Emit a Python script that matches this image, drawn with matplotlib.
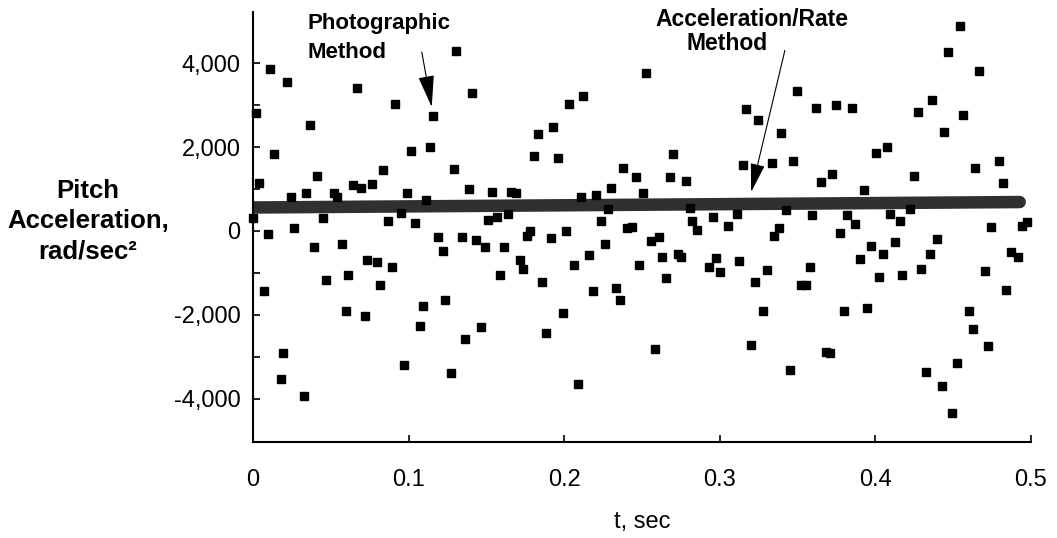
import numpy as np
import matplotlib
matplotlib.use('Agg')
import matplotlib.pyplot as plt
from matplotlib.ticker import FixedLocator

plt.rcParams['font.family'] = ['Liberation Sans', 'DejaVu Sans']

# photographic method samples (t in sec, pitch acceleration in rad/sec^2)
photo_t = [0.0109, 0.0216, 0.002, 0.0366, 0.0137, 0.004, 0.0413, 0.0244, 0.034, 0.052,
           0.054, 0.0, 0.0099, 0.0263, 0.0448, 0.0392, 0.057, 0.061, 0.0469, 0.0071,
           0.0598, 0.0195, 0.0178, 0.033,
           0.0666, 0.0913, 0.1155, 0.1138, 0.1015, 0.0834, 0.0645, 0.0692, 0.0763, 0.0988,
           0.1112, 0.087, 0.0949, 0.1041, 0.1187, 0.1219, 0.0735, 0.0795, 0.0891, 0.0816,
           0.072, 0.109, 0.1234, 0.1073, 0.097,
           0.1305, 0.1409, 0.1834, 0.1808, 0.1292, 0.1388, 0.1534, 0.1658, 0.169, 0.1512,
           0.1566, 0.1641, 0.1341, 0.1433, 0.1491, 0.1613, 0.1763, 0.1784, 0.1716, 0.1737,
           0.1587, 0.1859, 0.1465, 0.1362, 0.1883, 0.127,
           0.2526, 0.2123, 0.2033, 0.193, 0.1958, 0.238, 0.246, 0.2305, 0.2108, 0.2204,
           0.2505, 0.2284, 0.2235, 0.201, 0.1915, 0.2406, 0.2434, 0.2262, 0.2159, 0.2065,
           0.2481, 0.2187, 0.2337, 0.2359, 0.199, 0.2091,
           0.3168, 0.2701, 0.3151, 0.2684, 0.2781, 0.2809, 0.3109, 0.282, 0.2856, 0.2958,
           0.3055, 0.2611, 0.2556, 0.2631, 0.2734, 0.2755, 0.298, 0.2931, 0.3006, 0.3126,
           0.2655, 0.2584,
           0.3498, 0.3247, 0.3623, 0.3747, 0.3398, 0.3335, 0.3472, 0.365, 0.3725, 0.3429,
           0.3597, 0.3382, 0.335, 0.3772, 0.3308, 0.3231, 0.3583, 0.3522, 0.3558, 0.328,
           0.3798, 0.3205, 0.3683, 0.3708, 0.3451,
           0.3852, 0.4368, 0.4276, 0.4441, 0.4077, 0.4004, 0.4248, 0.3927, 0.382, 0.3869,
           0.4098, 0.4158, 0.4222, 0.3976, 0.4051, 0.4126, 0.3901, 0.44, 0.4351, 0.4297,
           0.4025, 0.4175, 0.395, 0.4329, 0.443,
           0.4544, 0.4469, 0.4668, 0.4565, 0.4794, 0.4645, 0.4822, 0.4747, 0.4946, 0.4976,
           0.4872, 0.4919, 0.4704, 0.4844, 0.4602, 0.4629, 0.4726, 0.4526, 0.4497]
photo_acc = [3870, 3550, 2810, 2540, 1840, 1140, 1310, 810, 900, 900,
             810, 300, -70, 80, 310, -390, -300, -1050, -1180, -1440,
             -1900, -2910, -3530, -3930,
             3420, 3040, 2740, 2000, 1900, 1460, 1090, 1020, 1130, 910,
             750, 230, 420, 190, -150, -480, -700, -740, -860, -1280,
             -2020, -1780, -1640, -2270, -3190,
             4290, 3290, 2320, 1800, 1470, 1010, 940, 940, 910, 250,
             330, 410, -150, -210, -390, -390, -130, -10, -700, -900,
             -1040, -1220, -2300, -2590, -2430, -3390,
             3780, 3220, 3020, 2490, 1750, 1500, 1280, 1030, 820, 870,
             900, 530, 230, 10, -160, 70, 90, -310, -570, -820,
             -810, -1440, -1360, -1640, -1960, -3660,
             2920, 1830, 1580, 1280, 1190, 550, 410, 230, 30, 330,
             110, -150, -250, -630, -560, -620, -640, -860, -970, -720,
             -1130, -2810,
             3340, 2640, 2930, 3010, 2340, 1630, 1670, 1160, 1350, 510,
             370, 70, -110, -50, -930, -1220, -860, -1300, -1300, -1920,
             -1910, -2730, -2880, -2910, -3310,
             2940, 3130, 2840, 2370, 2000, 1860, 1310, 980, 370, 160,
             410, 230, 530, -350, -560, -270, -660, -190, -560, -900,
             -1100, -1060, -1830, -3370, -3690,
             4890, 4280, 3810, 2770, 1680, 1500, 1150, 90, 110, 210,
             -510, -630, -960, -1420, -1900, -2330, -2750, -3150, -4340]

# acceleration/rate method (nearly constant)
rate_t = [0.0, 0.493]
rate_acc = [560, 690]

xticks = [0, 0.1, 0.2, 0.3, 0.4, 0.5]
xtick_labels = ['0', '0.1', '0.2', '0.3', '0.4', '0.5']
yticks = [-4000, -2000, 0, 2000, 4000]
ytick_labels = ['-4,000', '-2,000', '0', '2,000', '4,000']
yminor = [-3000, -1000, 1000, 3000]

fig = plt.figure(figsize=(10.57, 5.38), dpi=100)
ax = fig.add_axes([0.2394, 0.179, 0.7356, 0.799])

ax.plot(rate_t, rate_acc, color='#303030', lw=9, solid_capstyle='round', zorder=2)
ax.plot(photo_t, photo_acc, 's', ms=5.5, color='black', zorder=3, clip_on=False)

ax.set_xlim(0, 0.5)
ax.set_ylim(-5030, 5230)
ax.set_xticks(xticks)
ax.set_xticklabels(xtick_labels)
ax.set_yticks(yticks)
ax.set_yticklabels(ytick_labels)
ax.yaxis.set_minor_locator(FixedLocator(yminor))

for s in ['top', 'right']:
    ax.spines[s].set_visible(False)
for s in ['left', 'bottom']:
    ax.spines[s].set_linewidth(1.5)

ax.tick_params(axis='both', which='both', direction='in', labelsize=17, width=1.2)
ax.tick_params(axis='both', which='major', length=5)
ax.tick_params(axis='y', which='minor', length=5)
ax.tick_params(axis='x', pad=20)
ax.tick_params(axis='y', pad=9)

ax.set_xlabel('t, sec', fontsize=17, labelpad=14)
fig.text(88 / 1057, 1 - 221 / 538, 'Pitch\nAcceleration,\nrad/sec²',
         ha='center', va='center', fontsize=18.5, fontweight='bold', linespacing=1.32)

# annotations
ax.text(0.0347, 5200, 'Photographic\nMethod', ha='left', va='top',
        fontsize=16, fontweight='bold', linespacing=1.5)
ax.annotate('', xy=(0.1149, 2960), xytext=(0.1085, 4270),
            arrowprops=dict(arrowstyle='-|>,head_length=2.0,head_width=0.5',
                            color='black', lw=0.8, shrinkA=0, shrinkB=0))

ax.text(0.2585, 5320, 'Acceleration/Rate', ha='left', va='top',
        fontsize=16.5, fontweight='bold')
ax.text(0.279, 4480, 'Method', ha='left', va='center',
        fontsize=16.5, fontweight='bold')
ax.annotate('', xy=(0.3203, 930), xytext=(0.342, 4310),
            arrowprops=dict(arrowstyle='-|>,head_length=1.8,head_width=0.45',
                            color='black', lw=0.8, shrinkA=0, shrinkB=0))

fig.savefig('out.png', dpi=100)
